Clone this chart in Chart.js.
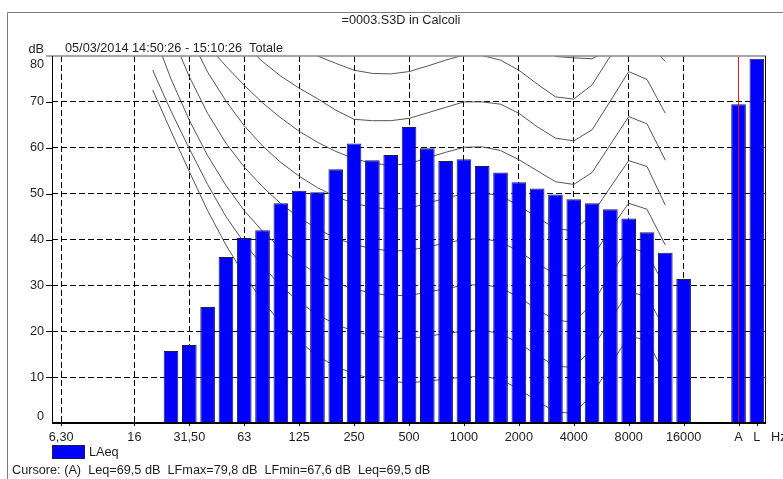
<!DOCTYPE html>
<html>
<head>
<meta charset="utf-8">
<script src="https://cdn.jsdelivr.net/npm/chart.js@4/dist/chart.umd.min.js"></script>
<style>
html,body{margin:0;padding:0;background:#fff;overflow:hidden}
canvas{display:block}
</style>
</head>
<body>
<canvas id="c" width="783" height="479"></canvas>
<script>
// Third-octave bands plus the overall A / L columns
const bands = ['6,30','8','10','12,50','16','20','25','31,50','40','50','63','80','100','125','160','200','250','315','400','500','630','800','1000','1250','1600','2000','2500','3150','4000','5000','6300','8000','10000','12500','16000','20000','','A','L'];
const labelledBands = ['6,30','16','31,50','63','125','250','500','1000','2000','4000','8000','16000','A','L'];
const gridBands = ['6,30','16','31,50','63','125','250','500','1000','2000','4000','8000','16000'];
const yTicks = [0,10,20,30,40,50,60,70,80];
const cursorBand = 'A';

// LAeq per band (dB)
const laeq = [null,null,null,null,null,null,15.7,17.0,25.3,36.2,40.3,42.0,47.9,50.6,50.3,55.3,60.9,57.3,58.4,64.5,59.9,57.1,57.5,56.0,54.6,52.5,51.1,49.8,48.8,47.9,46.6,44.6,41.6,37.1,31.4,null,null,69.5,79.4];

// Equal-loudness contours, 20 Hz .. 12500 Hz
const contourBands = ['20','25','31,50','40','50','63','80','100','125','160','200','250','315','400','500','630','800','1000','1250','1600','2000','2500','3150','4000','5000','6300','8000','10000','12500'];
const curve90 = [130,124,118,113,108,104,100,97,94.5,92,90,88,86.8,86.2,86.5,87.6,88.8,90.0,90.1,89.3,86.8,82.5,79.9,79.6,79.4,81.5,96.0,94.0,88.0];
const curve80 = [118,112,106,101,96,92,88,85,82.3,80.0,78.4,76.9,76.2,76.1,76.6,77.8,79.1,80.2,80.1,79.1,76.9,73.9,71.1,70.6,73.7,80.0,86.2,83.0,78.8];
const curve70 = [107,101,95.5,91,86.8,82.6,78.8,75.6,73.0,70.7,68.2,66.2,65.9,65.9,66.4,67.6,68.8,70.0,70.0,69.5,67.5,64.6,62.1,61.5,63.9,70.2,76.6,74.9,67.5];
const curve60 = [98,93,87.5,82.3,77.8,73.6,69.8,66.5,63.6,61.2,59.2,57.6,56.6,56.2,56.5,57.8,59.0,60.1,60.2,59.4,57.4,55.0,52.6,52.0,54.6,60.7,66.8,65.2,57.3];
const curve50 = [100,92,84.5,76.5,70.2,64.8,60.4,56.8,53.8,51.3,49.3,47.9,47.0,46.6,46.8,47.9,49.0,50.0,50.2,49.5,47.4,44.8,42.4,41.9,45.5,51.4,57.2,55.9,47.5];
const curve40 = [96,85,75.5,67.5,61.0,55.8,51.5,47.8,44.8,42.3,40.3,38.9,38.0,37.5,37.6,38.4,39.2,40.0,40.2,39.5,37.4,34.8,32.4,31.9,36.0,42.3,47.9,46.6,38.8];
const curve30 = [85.5,75,66,58.3,51.8,46.3,41.8,38.0,35.0,32.5,30.5,29.2,28.3,27.8,27.8,28.5,29.3,30.0,30.2,29.5,27.4,24.8,22.4,22.0,26.0,32.3,38.3,37.1,29.5];
const curve20 = [76.9,68,59.8,52.0,45.0,39.3,34.2,29.9,26.4,23.6,21.5,20.0,19.0,18.5,18.4,18.9,19.5,20.0,20.2,19.5,17.4,14.8,12.4,12.1,16.2,22.5,28.6,27.6,20.2];
const curve10 = [72.6,63.6,54.8,46.3,38.8,32.3,26.6,21.8,17.8,14.6,12.3,10.7,9.6,9.0,8.8,9.1,9.6,10.0,10.2,9.5,7.4,4.8,2.4,2.1,6.2,12.6,19.0,18.0,10.5];
const contours = [curve90,curve80,curve70,curve60,curve50,curve40,curve30,curve20,curve10];

const FONT = '12.7px "Liberation Sans", Arial, sans-serif';
const TEXT = '#1e1e1e';
const BAR_FILL = '#0000ff';
const BAR_EDGE = '#1c1c50';
const GRID_DASH = [6, 3];

const contourSets = contours.map(vals => ({
  type: 'line',
  data: contourBands.map((b, i) => ({x: b, y: vals[i]})),
  borderColor: '#555555',
  borderWidth: 1,
  pointRadius: 0,
  tension: 0,
  fill: false,
  order: 2
}));

const decor = {
  id: 'decor',
  beforeDraw(chart) {
    const c = chart.ctx;
    c.save();
    c.setLineDash([]);
    c.fillStyle = '#fff';
    c.fillRect(0, 0, chart.width, chart.height);
    // outer frame
    c.strokeStyle = '#7a7a7a';
    c.lineWidth = 1;
    c.beginPath();
    c.moveTo(7.5, 479); c.lineTo(7.5, 12.5); c.lineTo(783, 12.5);
    c.stroke();
    c.fillStyle = TEXT;
    c.font = FONT;
    c.textBaseline = 'middle';
    c.textAlign = 'center';
    c.fillText('=0003.S3D in Calcoli', 401, 20);
    c.textAlign = 'left';
    c.fillText('05/03/2014 14:50:26 - 15:10:26  Totale', 65, 48);
    c.textAlign = 'right';
    c.fillText('dB', 44, 49);
    c.restore();
  },
  afterDraw(chart) {
    const c = chart.ctx;
    const a = chart.chartArea;
    const xs = chart.scales.x, ys = chart.scales.y;
    c.save();
    c.setLineDash([]);
    // frame of the plot
    c.strokeStyle = '#8a8a8a';
    c.lineWidth = 1.5;
    c.beginPath(); c.moveTo(46, a.top); c.lineTo(a.right, a.top); c.stroke();
    c.strokeStyle = '#111';
    c.lineWidth = 1;
    c.beginPath(); c.moveTo(a.right - 0.5, a.top); c.lineTo(a.right - 0.5, a.bottom); c.stroke();
    c.strokeStyle = '#000';
    c.beginPath(); c.moveTo(a.left + 0.5, a.top); c.lineTo(a.left + 0.5, a.bottom + 1); c.stroke();
    c.lineWidth = 2;
    c.beginPath(); c.moveTo(a.left, a.bottom); c.lineTo(a.right, a.bottom); c.stroke();
    // cursor on the A column
    const xa = Math.floor(xs.getPixelForValue(bands.indexOf(cursorBand))) + 0.5;
    c.strokeStyle = '#e41a1a';
    c.lineWidth = 1;
    c.beginPath(); c.moveTo(xa, a.top + 1); c.lineTo(xa, a.bottom - 1); c.stroke();
    // y ticks and labels
    c.strokeStyle = '#000';
    c.lineWidth = 1;
    c.fillStyle = TEXT;
    c.font = FONT;
    c.textAlign = 'right';
    c.textBaseline = 'middle';
    yTicks.forEach(v => {
      const y = ys.getPixelForValue(v);
      if (v > 0 && v < 80) {
        c.beginPath(); c.moveTo(46, Math.round(y) + 0.5); c.lineTo(a.left, Math.round(y) + 0.5); c.stroke();
      }
      const ly = Math.min(Math.max(y, a.top + 8), a.bottom - 7);
      c.fillText(String(v), 44, ly);
    });
    // x labels
    c.textAlign = 'center';
    labelledBands.forEach(b => {
      const x = xs.getPixelForValue(bands.indexOf(b));
      c.beginPath(); c.moveTo(Math.round(x) + 0.5, a.bottom); c.lineTo(Math.round(x) + 0.5, a.bottom + 3); c.stroke();
      c.fillText(b, x, a.bottom + 14);
    });
    c.textAlign = 'left';
    c.fillText('Hz', 771, a.bottom + 14);
    // legend
    c.fillStyle = BAR_FILL;
    c.fillRect(52, 445, 33, 14);
    c.strokeStyle = BAR_EDGE;
    c.strokeRect(52.5, 445.5, 32, 13);
    c.fillStyle = TEXT;
    c.fillText('LAeq', 89, 452);
    c.fillText('Cursore: (A)  Leq=69,5 dB  LFmax=79,8 dB  LFmin=67,6 dB  Leq=69,5 dB', 12, 470);
    c.restore();
  }
};

new Chart(document.getElementById('c'), {
  type: 'bar',
  data: {
    labels: bands,
    datasets: [
      {
        label: 'LAeq',
        data: laeq,
        backgroundColor: BAR_FILL,
        borderColor: BAR_EDGE,
        borderWidth: 1,
        barPercentage: 0.8,
        categoryPercentage: 1,
        order: 1
      },
      ...contourSets
    ]
  },
  options: {
    responsive: false,
    animation: false,
    events: [],
    layout: {padding: {left: 52, top: 56, right: 17, bottom: 56}},
    plugins: {legend: {display: false}, tooltip: {enabled: false}, title: {display: false}},
    scales: {
      x: {
        type: 'category',
        offset: true,
        border: {display: false, dash: GRID_DASH},
        ticks: {display: false},
        grid: {
          offset: false,
          drawTicks: false,
          lineWidth: 1,
          color: ctx => gridBands.includes(bands[ctx.index]) ? '#000' : 'rgba(0,0,0,0)'
        }
      },
      y: {
        min: 0,
        max: 80,
        border: {display: false, dash: GRID_DASH},
        ticks: {display: false, stepSize: 10},
        grid: {
          drawTicks: false,
          lineWidth: 1,
          color: ctx => (ctx.tick && (ctx.tick.value === 0 || ctx.tick.value === 80)) ? 'rgba(0,0,0,0)' : '#000'
        }
      }
    }
  },
  plugins: [decor]
});
</script>
</body>
</html>
